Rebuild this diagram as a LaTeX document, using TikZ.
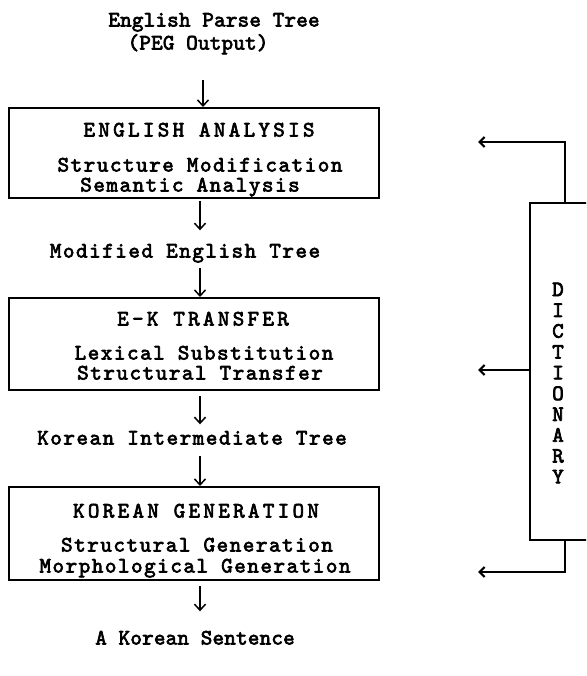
\documentclass[tikz,border=0pt]{standalone}
\usepackage{fontspec}
\newfontfamily\lowfont[Extension=.otf, LetterSpace=7, FakeBold=3]{lmmono10-regular}
\newfontfamily\tightfont[Extension=.otf, LetterSpace=1, FakeBold=3]{lmmono10-regular}
\newfontfamily\capfont[Extension=.otf, LetterSpace=15, FakeBold=3]{lmmono10-regular}
\usetikzlibrary{arrows.meta}
\begin{document}
\begin{tikzpicture}[x=1pt,y=-1pt,
  txt/.style={inner sep=0pt, text height=11pt, text depth=2pt,
    font=\fontsize{22}{22}\lowfont},
  tighttxt/.style={txt, font=\fontsize{22}{22}\tightfont},
  captxt/.style={txt, font=\fontsize{22}{22}\capfont},
  stagebox/.style={draw, line width=2pt, inner sep=0pt, minimum width=370pt},
  dictbox/.style={draw, line width=2pt, inner sep=0pt, minimum width=80pt, minimum height=337pt},
  varrow/.style={line width=1.5pt, -{Straight Barb[length=6pt,width=11pt,line width=1.5pt]}},
  harrow/.style={line width=1.7pt, -{Straight Barb[length=5pt,width=10pt,line width=2.2pt]}}
]
\useasboundingbox (0,0) rectangle (586,676);
\clip (0,0) rectangle (586,676);

% stage boxes
\node[stagebox, minimum height=90pt] (box1) at (194,153) {};
\node[stagebox, minimum height=92pt] (box2) at (194,344) {};
\node[stagebox, minimum height=93pt] (box3) at (194,533.5) {};

% texts
\node[tighttxt] (s1) at (214,22) {English Parse Tree};
\node[tighttxt] (s2) at (198,45) {(PEG Output)};
\node[captxt] (t1) at (199,132) {ENGLISH ANALYSIS};
\node[txt] (t1a) at (200,167) {Structure Modification};
\node[txt] (t1b) at (190,187) {Semantic Analysis};
\node[txt] (m1) at (185,253) {Modified English Tree};
\node[captxt] (t2) at (203,321) {E-K TRANSFER};
\node[txt] (t2a) at (204,355) {Lexical Substitution};
\node[txt] (t2b) at (200,375) {Structural Transfer};
\node[txt] (m2) at (192,440) {Korean Intermediate Tree};
\node[captxt] (t3) at (196,513) {KOREAN GENERATION};
\node[txt] (t3a) at (197,547) {Structural Generation};
\node[txt] (t3b) at (195,568) {Morphological Generation};
\node[tighttxt] (s3) at (195,640) {A Korean Sentence};

% dictionary
\node[dictbox] (dict) at (570,371.5) {};
\node[inner sep=0pt, align=center, font=\fontsize{22}{20.8}\tightfont] (dtxt) at (558,383)
  {D\\I\\C\\T\\I\\O\\N\\A\\R\\Y};

% vertical flow arrows
\coordinate (ax) at (200,0);
\coordinate (a0) at (203,80);
\draw[varrow] (a0) -- (a0 |- box1.north);
\draw[varrow, shorten <=2pt, shorten >=16pt] (ax |- box1.south) -- (ax |- m1.north);
\coordinate (a2) at (200,268);
\draw[varrow] (a2) -- (ax |- box2.north);
\draw[varrow, shorten <=5pt, shorten >=9pt] (ax |- box2.south) -- (ax |- m2.north);
\coordinate (a4) at (200,456);
\draw[varrow] (a4) -- (ax |- box3.north);
\draw[varrow, shorten <=5pt, shorten >=22pt] (ax |- box3.south) -- (ax |- s3.north);

% dictionary arrows
\coordinate (ta) at (478,142);
\coordinate (ma) at (478,370);
\coordinate (ba) at (478,572);
\coordinate (dx) at (565,0);
\draw[harrow] (dx |- dict.north) |- (ta);
\draw[harrow] (ma -| dict.west) -- (ma);
\draw[harrow] (dx |- dict.south) |- (ba);
\end{tikzpicture}
\end{document}
